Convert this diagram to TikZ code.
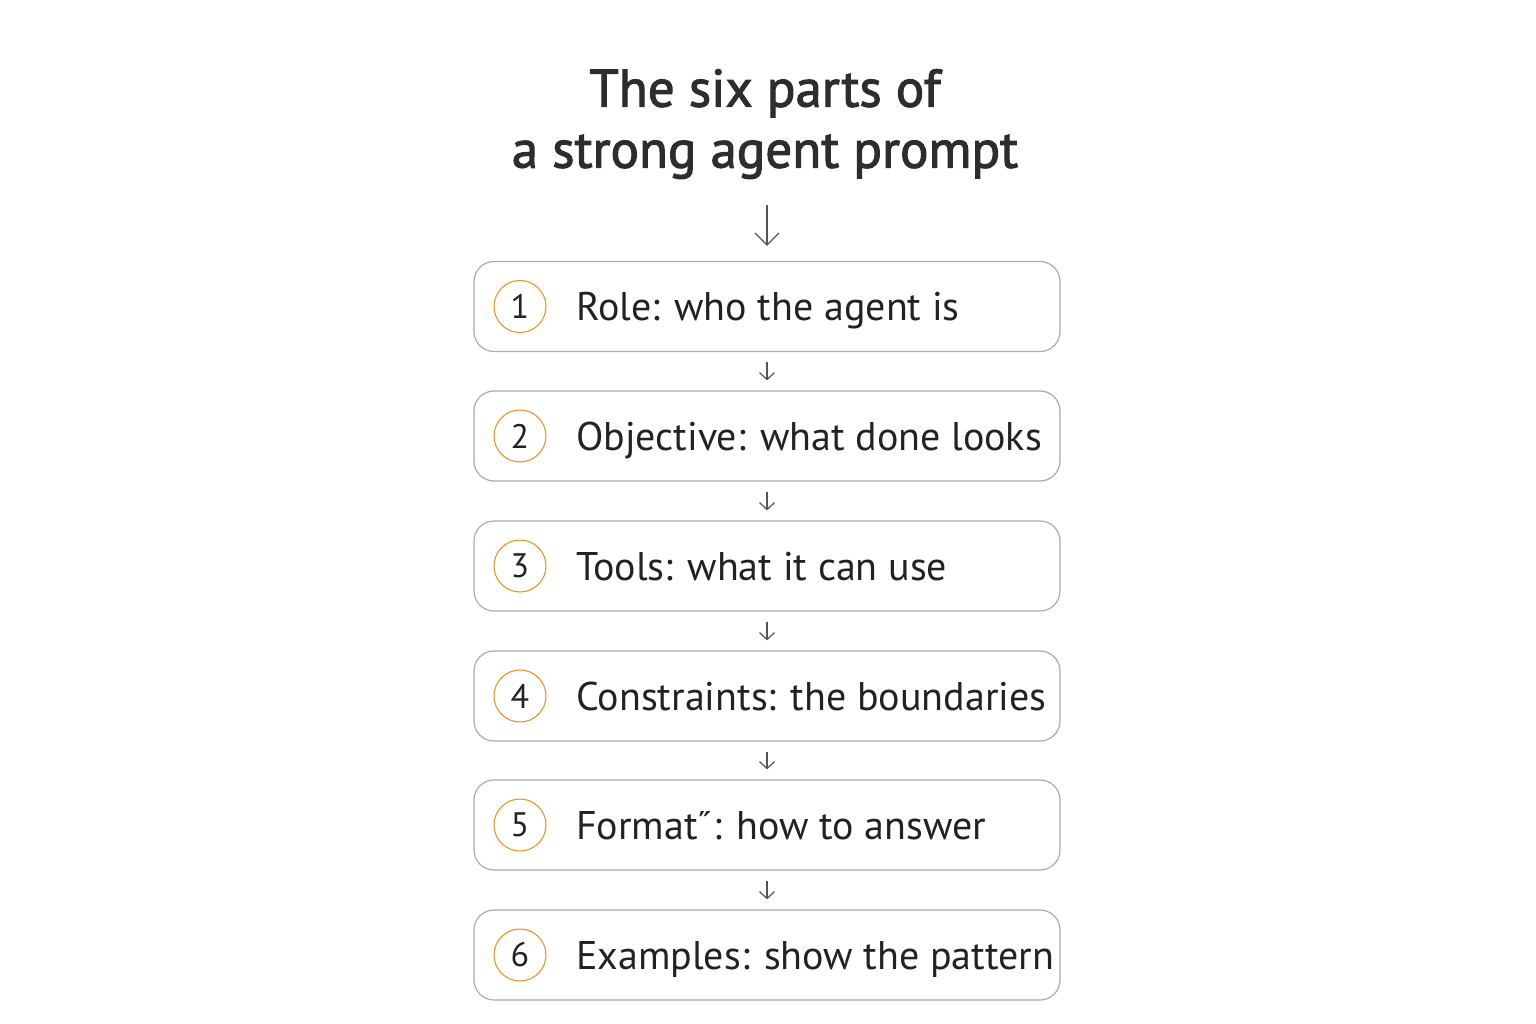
\documentclass[tikz,border=0pt]{standalone}
\usepackage{fontspec}
\setmainfont{PT Sans}
\newfontfamily\titlefont[FakeBold=2]{PT Sans}
\usetikzlibrary{arrows.meta}
\definecolor{txt}{HTML}{222222}
\definecolor{edge}{HTML}{ABABAB}
\definecolor{ring}{HTML}{E8942C}
\definecolor{arr}{HTML}{555555}
\begin{document}
\begin{tikzpicture}[x=1pt,y=-1pt,
  stepbox/.style={draw=edge,line width=1.2pt,rounded corners=20pt,minimum width=586pt,minimum height=90pt,inner sep=0pt},
  num/.style={draw=ring,circle,line width=1.1pt,minimum size=52pt,inner sep=0pt,text=txt,font=\fontsize{34}{34}\selectfont},
  lbl/.style={anchor=base west,inner sep=0pt,text=txt,font=\fontsize{40}{40}\selectfont},
  flow/.style={draw=arr,line width=1.2pt,-{Straight Barb[length=7pt,width=15pt]},shorten <=10pt,shorten >=10pt}]
\useasboundingbox (0,0) rectangle (1536,1024);

\node[align=center,text=txt!95!white,font=\titlefont\fontsize{53}{61}\selectfont] (title) at (765,124) {The six parts of\\a strong agent prompt};
\coordinate (top) at (767,205);

\node[stepbox] (b1) at (767,306.5) {};
\node[stepbox] (b2) at (767,436) {};
\node[stepbox] (b3) at (767,566) {};
\node[stepbox] (b4) at (767,696) {};
\node[stepbox] (b5) at (767,825) {};
\node[stepbox] (b6) at (767,955) {};

\node[num] (n1) at (520,306.5) {1};
\node[num] (n2) at (520,436) {2};
\node[num] (n3) at (520,566) {3};
\node[num] (n4) at (520,696) {4};
\node[num] (n5) at (520,825) {5};
\node[num] (n6) at (520,955) {6};

\node[lbl] (t1) at (576,320.5) {Role: who the agent is};
\node[lbl] (t2) at (576,450) {Objective: what done looks};
\node[lbl] (t3) at (576,580) {Tools: what it can use};
\node[lbl] (t4) at (576,710) {Constraints: the boundaries};
\node[lbl] (t5) at (576,839) {Format˝: how to answer};
\node[lbl] (t6) at (576,969) {Examples: show the pattern};

\path[draw=arr,line width=1.2pt,-{Straight Barb[length=12pt,width=24pt]},shorten >=15pt] (top) -- (b1.north);
\path[flow] (b1) -- (b2);
\path[flow] (b2) -- (b3);
\path[flow] (b3) -- (b4);
\path[flow] (b4) -- (b5);
\path[flow] (b5) -- (b6);
\end{tikzpicture}
\end{document}
